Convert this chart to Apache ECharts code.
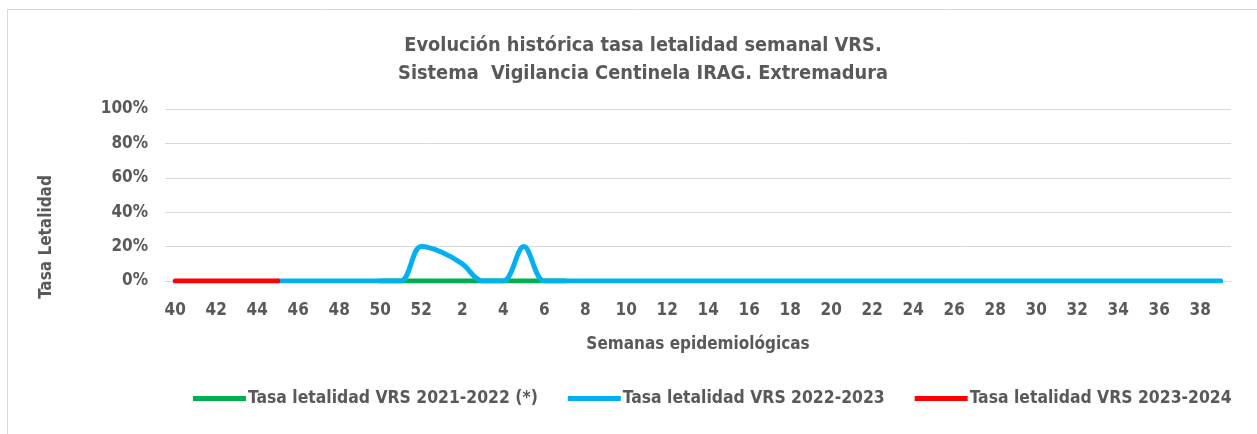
<!DOCTYPE html>
<html>
<head>
<meta charset="utf-8">
<script src="https://cdn.jsdelivr.net/npm/echarts@6/dist/echarts.min.js"></script>
<style>
html,body{margin:0;padding:0;background:#fff;}
#c{width:1257px;height:434px;}
</style>
</head>
<body>
<div id="c"></div>
<script>
var weeks = ['40','41','42','43','44','45','46','47','48','49','50','51','52',
  '1','2','3','4','5','6','7','8','9','10','11','12','13','14','15','16','17','18','19','20',
  '21','22','23','24','25','26','27','28','29','30','31','32','33','34','35','36','37','38','39'];
var titleLines = ['Evolución histórica tasa letalidad semanal VRS.', 'Sistema  Vigilancia Centinela IRAG. Extremadura'];
var seriesNames = ['Tasa letalidad VRS 2021-2022 (*)', 'Tasa letalidad VRS 2022-2023', 'Tasa letalidad VRS 2023-2024'];
var yAxisTitle = 'Tasa Letalidad';
var xAxisTitle = 'Semanas epidemiológicas';
// values in %
var s2122 = [null,null,null,null,null,null,null,null,null,null,0,0,0,
  0,0,0,0,0,0,0,null,null,null,null,null,null,null,null,null,null,null,null,null,
  null,null,null,null,null,null,null,null,null,null,null,null,null,null,null,null,null,null,null];
var s2223 = [null,null,null,null,null,0,0,0,0,0,0,0,20,
  16.7,10,0,0,20,0,0,0,0,0,0,0,0,0,0,0,0,0,0,0,
  0,0,0,0,0,0,0,0,0,0,0,0,0,0,0,0,0,0,0];
var s2324 = [0,0,0,0,0,0,null,null,null,null,null,null,null,
  null,null,null,null,null,null,null,null,null,null,null,null,null,null,null,null,null,null,null,null,
  null,null,null,null,null,null,null,null,null,null,null,null,null,null,null,null,null,null,null];

var FONT = "'Liberation Sans Narrow','DejaVu Sans Condensed','Liberation Sans',sans-serif";
var GRAY = '#595959';
var chart = echarts.init(document.getElementById('c'), null, {renderer:'canvas'});
chart.setOption({
  animation:false,
  backgroundColor:'#fff',
  graphic:[
    {type:'rect', shape:{x:7.5,y:9.5,width:1300,height:500}, style:{fill:'none', stroke:'#d9d9d9', lineWidth:1}},
    {type:'text', x:47, y:237, rotation:Math.PI/2,
     style:{text:yAxisTitle, fontFamily:FONT, fontWeight:'bold', fontSize:17, fill:GRAY, align:'center', verticalAlign:'middle'}}
  ],
  title:{
    text: titleLines.join('\n'),
    left:638, top:27, textAlign:'center',
    textStyle:{fontFamily:FONT, fontWeight:'bold', fontSize:19.8, color:GRAY, lineHeight:28, align:'center'}
  },
  grid:{left:165, right:26, top:109, bottom:153, containLabel:false},
  legend:{
    bottom:22, left:188,
    itemWidth:53, itemHeight:5, itemGap:30,
    icon:'rect',
    textStyle:{fontFamily:FONT, fontWeight:'bold', fontSize:17.4, color:GRAY, padding:[0,0,0,-3]},
    data:seriesNames
  },
  xAxis:{
    type:'category', data:weeks, boundaryGap:true,
    name:xAxisTitle, nameLocation:'middle', nameGap:55,
    nameTextStyle:{fontFamily:FONT, fontWeight:'bold', fontSize:17, color:GRAY},
    axisLine:{show:true, lineStyle:{color:'#d9d9d9', width:1}},
    axisTick:{show:false},
    axisLabel:{interval:1, fontFamily:FONT, fontWeight:'bold', fontSize:17, color:GRAY, margin:21}
  },
  yAxis:{
    type:'value', min:0, max:100, interval:20,
    axisLine:{show:false}, axisTick:{show:false},
    splitLine:{lineStyle:{color:'#d9d9d9', width:1}},
    axisLabel:{formatter:function(v){return v+'%';}, fontFamily:FONT, fontWeight:'bold', fontSize:17, color:GRAY, margin:17}
  },
  series:[
    {name:seriesNames[0], type:'line', data:s2122, smooth:0.35, showSymbol:false, symbol:'none', color:'#00B050', lineStyle:{width:5, color:'#00B050', cap:'round'}},
    {name:seriesNames[1], type:'line', data:s2223, smooth:0.35, showSymbol:false, symbol:'none', color:'#00B0F0', lineStyle:{width:5, color:'#00B0F0', cap:'round'}},
    {name:seriesNames[2], type:'line', data:s2324, smooth:0.35, showSymbol:false, symbol:'none', color:'#FF0000', lineStyle:{width:5, color:'#FF0000', cap:'round'}}
  ]
});
</script>
</body>
</html>
